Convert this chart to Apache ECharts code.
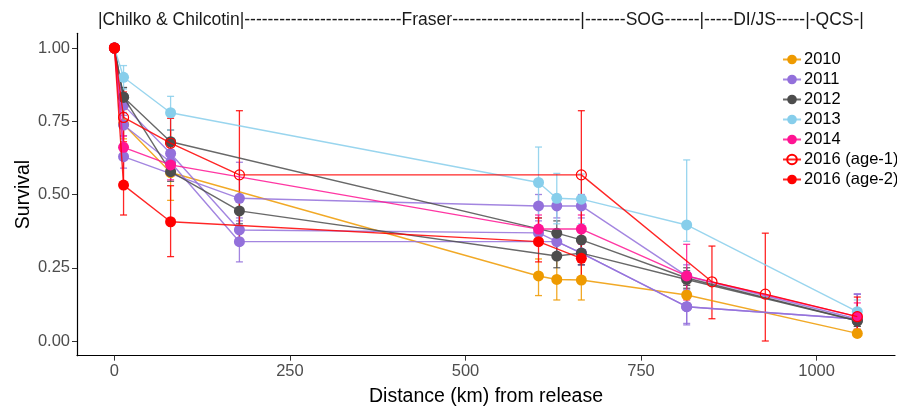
<!DOCTYPE html>
<html><head><meta charset="utf-8">
<script src="https://cdn.jsdelivr.net/npm/echarts@6/dist/echarts.min.js"></script>
<style>html,body{margin:0;padding:0;background:#fff}#c{width:897px;height:406px}</style>
</head><body><div id="c"></div>
<script>
// ---- tick labels / text ----
const xTicks = [0, 250, 500, 750, 1000];
const xTickLabels = ['0', '250', '500', '750', '1000'];
const yTicks = [0, 0.25, 0.5, 0.75, 1];
const yTickLabels = ['0.00', '0.25', '0.50', '0.75', '1.00'];
const regionLabel = '|Chilko & Chilcotin|' + '-'.repeat(27) + 'Fraser' + '-'.repeat(22) + '|-------SOG------|-----DI/JS-----|-QCS-|';
const legendNames = ['2010', '2011', '2012', '2013', '2014', '2016 (age-1)', '2016 (age-2)'];

// ---- data: distance (km), survival, lower / upper CI ----
const x2010 = [0, 13, 80, 604, 630, 665, 815, 1058];
const y2010 = [1.00, 0.74, 0.575, 0.222, 0.210, 0.208, 0.157, 0.026];
const lo2010 = [1.00, 0.69, 0.48, 0.155, 0.14, 0.14, 0.13, 0.015];
const hi2010 = [1.00, 0.79, 0.67, 0.28, 0.28, 0.28, 0.19, 0.04];

const x2011a = [0, 13, 80, 178, 604, 665, 815, 1058];
const y2011a = [1.00, 0.805, 0.64, 0.379, 0.369, 0.30, 0.117, 0.075];
const lo2011a = [1.00, 0.77, 0.60, 0.34, 0.33, 0.26, 0.06, 0.03];
const hi2011a = [1.00, 0.84, 0.68, 0.42, 0.41, 0.34, 0.175, 0.16];

const x2011b = [0, 13, 80, 178, 630, 665, 815, 1058];
const y2011b = [1.00, 0.737, 0.61, 0.339, 0.339, 0.30, 0.117, 0.075];
const lo2011b = [1.00, 0.70, 0.57, 0.27, 0.30, 0.26, 0.055, 0.03];
const hi2011b = [1.00, 0.78, 0.65, 0.41, 0.38, 0.34, 0.17, 0.16];

const x2011c = [0, 13, 178, 604, 630, 665, 815, 1058];
const y2011c = [1.00, 0.629, 0.487, 0.461, 0.461, 0.461, 0.222, 0.075];
const lo2011c = [1.00, 0.59, 0.37, 0.42, 0.42, 0.42, 0.19, 0.03];
const hi2011c = [1.00, 0.67, 0.61, 0.50, 0.50, 0.50, 0.26, 0.16];

const x2012a = [0, 13, 80, 630, 665, 815, 1058];
const y2012a = [1.00, 0.832, 0.68, 0.368, 0.345, 0.215, 0.069];
const lo2012a = [1.00, 0.80, 0.64, 0.33, 0.31, 0.19, 0.05];
const hi2012a = [1.00, 0.865, 0.72, 0.41, 0.38, 0.25, 0.09];

const x2012b = [0, 13, 80, 178, 630, 665, 815, 1058];
const y2012b = [1.00, 0.832, 0.578, 0.444, 0.290, 0.300, 0.210, 0.069];
const lo2012b = [1.00, 0.80, 0.545, 0.40, 0.25, 0.26, 0.18, 0.05];
const hi2012b = [1.00, 0.865, 0.62, 0.49, 0.33, 0.34, 0.24, 0.09];

const x2013 = [0, 13, 80, 604, 630, 665, 815, 1058];
const y2013 = [1.00, 0.900, 0.779, 0.541, 0.487, 0.484, 0.396, 0.100];
const lo2013 = [1.00, 0.86, 0.72, 0.42, 0.40, 0.40, 0.34, 0.07];
const hi2013 = [1.00, 0.94, 0.835, 0.662, 0.572, 0.57, 0.618, 0.14];

const x2014 = [0, 13, 80, 604, 665, 815, 1058];
const y2014 = [1.00, 0.661, 0.601, 0.382, 0.382, 0.222, 0.083];
const lo2014 = [1.00, 0.62, 0.55, 0.33, 0.33, 0.14, 0.04];
const hi2014 = [1.00, 0.70, 0.65, 0.43, 0.43, 0.33, 0.13];

const x2016a1 = [0, 13, 80, 178, 665, 851, 927, 1058];
const y2016a1 = [1.00, 0.763, 0.675, 0.567, 0.567, 0.202, 0.160, 0.083];
const lo2016a1 = [1.00, 0.68, 0.58, 0.35, 0.35, 0.076, 0.0, 0.03];
const hi2016a1 = [1.00, 0.85, 0.76, 0.786, 0.786, 0.324, 0.368, 0.15];

const x2016a2 = [0, 13, 80, 604, 665];
const y2016a2 = [1.00, 0.532, 0.407, 0.339, 0.282];
const lo2016a2 = [1.00, 0.43, 0.288, 0.27, 0.22];
const hi2016a2 = [1.00, 0.64, 0.53, 0.42, 0.34];

// ---- styles ----
const colors = {
  '2010': '#EE9A00', '2011': '#9370DB', '2012': '#4D4D4D', '2013': '#87CEEB',
  '2014': '#FF1493', '2016 (age-1)': '#FF0000', '2016 (age-2)': '#FF0000'
};

const groups = [
  { name: '2010', x: x2010, y: y2010, lo: lo2010, hi: hi2010 },
  { name: '2011', x: x2011a, y: y2011a, lo: lo2011a, hi: hi2011a },
  { name: '2011', x: x2011b, y: y2011b, lo: lo2011b, hi: hi2011b },
  { name: '2011', x: x2011c, y: y2011c, lo: lo2011c, hi: hi2011c },
  { name: '2012', x: x2012a, y: y2012a, lo: lo2012a, hi: hi2012a },
  { name: '2012', x: x2012b, y: y2012b, lo: lo2012b, hi: hi2012b },
  { name: '2013', x: x2013, y: y2013, lo: lo2013, hi: hi2013 },
  { name: '2014', x: x2014, y: y2014, lo: lo2014, hi: hi2014 },
  { name: '2016 (age-1)', x: x2016a1, y: y2016a1, lo: lo2016a1, hi: hi2016a1, open: true },
  { name: '2016 (age-2)', x: x2016a2, y: y2016a2, lo: lo2016a2, hi: hi2016a2 }
];

const series = [];
groups.forEach((g, gi) => {
  const color = colors[g.name];
  series.push({
    type: 'custom',
    name: g.name + '_err' + gi,
    silent: true,
    z: 1,
    encode: { x: 0, y: [1, 2] },
    data: g.x.map((xv, i) => [xv, g.lo[i], g.hi[i]]),
    renderItem: function (params, api) {
      const xv = api.value(0), lo = api.value(1), hi = api.value(2);
      if (hi - lo < 1e-6) return null;
      const p1 = api.coord([xv, hi]), p2 = api.coord([xv, lo]);
      const w = 3.5;
      const style = { stroke: color, lineWidth: 1.3, opacity: 0.85 };
      return {
        type: 'group', children: [
          { type: 'line', shape: { x1: p1[0], y1: p1[1], x2: p2[0], y2: p2[1] }, style: style },
          { type: 'line', shape: { x1: p1[0] - w, y1: p1[1], x2: p1[0] + w, y2: p1[1] }, style: style },
          { type: 'line', shape: { x1: p2[0] - w, y1: p2[1], x2: p2[0] + w, y2: p2[1] }, style: style }
        ]
      };
    }
  });
});
groups.forEach((g, gi) => {
  const color = colors[g.name];
  series.push({
    type: 'line',
    name: g.name,
    z: 2 + gi * 0.01,
    data: g.x.map((xv, i) => [xv, g.y[i]]),
    symbol: 'circle',
    symbolSize: g.open ? 10 : 11,
    showSymbol: true,
    lineStyle: { color: color, width: 1.4, opacity: 0.85 },
    itemStyle: g.open
      ? { color: 'rgba(255,255,255,0)', borderColor: color, borderWidth: 1.2 }
      : { color: color, borderWidth: 0 },
    emphasis: { disabled: true },
    animation: false
  });
});

const chart = echarts.init(document.getElementById('c'), null, { renderer: 'canvas' });
chart.setOption({
  animation: false,
  backgroundColor: '#fff',
  textStyle: { fontFamily: 'Liberation Sans, Arial, sans-serif' },
  title: {
    text: regionLabel, left: 93, top: 6,
    textStyle: { fontSize: 17.5, fontWeight: 'normal', color: '#1a1a1a', fontFamily: 'Liberation Sans' }
  },
  grid: { left: 77, right: 2, top: 33.35, bottom: 50.35, containLabel: false, outerBoundsMode: 'none' },
  legend: {
    orient: 'vertical', left: 777, top: 46,
    itemWidth: 18, itemHeight: 12, itemGap: 3,
    data: legendNames,
    textStyle: { fontSize: 16.5, lineHeight: 16, color: '#000', padding: [0, 0, 0, -2] },
    selectedMode: false
  },
  xAxis: {
    type: 'value', min: -53.3, max: 1111.7,
    name: 'Distance (km) from release', nameLocation: 'middle', nameGap: 31,
    nameMoveOverlap: false,
    nameTextStyle: { fontSize: 19.5, color: '#000' },
    axisLine: { show: true, onZero: false, lineStyle: { color: '#000', width: 1.2 } },
    axisTick: { show: true, customValues: xTicks, length: 5, lineStyle: { color: '#333' } },
    axisLabel: {
      customValues: xTicks, fontSize: 16.5, color: '#4d4d4d', margin: 7,
      formatter: v => xTickLabels[xTicks.indexOf(v)]
    },
    splitLine: { show: false }
  },
  yAxis: {
    type: 'value', min: -0.05, max: 1.05,
    name: 'Survival', nameLocation: 'middle', nameGap: 43, nameRotate: 90,
    nameMoveOverlap: false,
    nameTextStyle: { fontSize: 19.5, color: '#000' },
    axisLine: { show: true, onZero: false, lineStyle: { color: '#000', width: 1.2 } },
    axisTick: { show: true, customValues: yTicks, length: 5, lineStyle: { color: '#333' } },
    axisLabel: {
      customValues: yTicks, fontSize: 16.5, color: '#4d4d4d', margin: 7,
      formatter: v => yTickLabels[yTicks.findIndex(t => Math.abs(t - v) < 1e-9)]
    },
    splitLine: { show: false }
  },
  series: series
});
</script>
</body></html>
